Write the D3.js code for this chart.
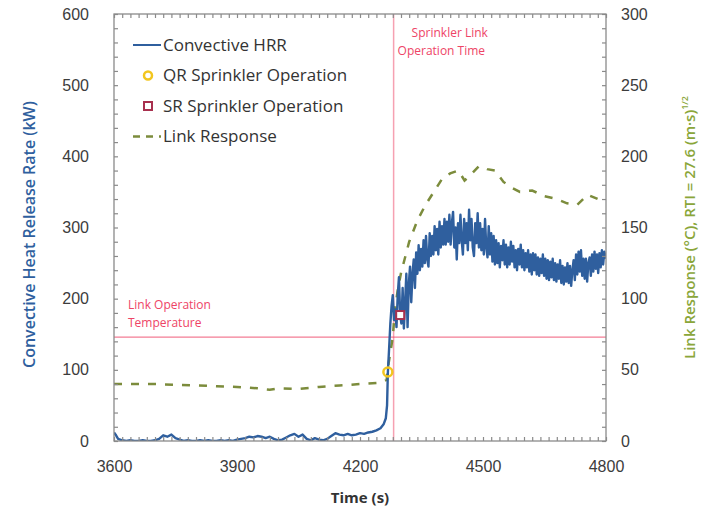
<!DOCTYPE html>
<html lang="en">
<head>
  <meta charset="utf-8">
  <title>Convective HRR and Link Response</title>
  <script src="https://d3js.org/d3.v7.min.js"></script>
  <style>
    body { margin: 0; background: #fff; }
    svg { font-family: "Open Sans", "Noto Sans", sans-serif; }
  </style>
</head>
<body>
  <div id="chart"></div>
  <script>
    // width and height
    var w = 720;
    var h = 508;
    var margin = { top: 14, right: 114, bottom: 67, left: 114 };

    // convective HRR, [time (s), kW]
    const hrrData = [
      [3600, 12], [3605, 8], [3610, 3], [3620, 1], [3630, 0], [3640, 1], [3650, 0], [3660, 0],
      [3670, 1], [3680, 0], [3690, 0], [3700, 1], [3710, 3], [3720, 8], [3730, 6], [3740, 9],
      [3750, 4], [3760, 2], [3770, 0], [3780, 1], [3790, 0], [3800, 0], [3810, 1], [3820, 0],
      [3830, 1], [3840, 0], [3850, 0], [3860, 1], [3870, 0], [3880, 1], [3890, 0], [3900, 2],
      [3910, 3], [3920, 4], [3930, 6], [3940, 5], [3950, 7], [3960, 6], [3970, 4], [3980, 6],
      [3990, 3], [4000, 1], [4010, 2], [4020, 5], [4030, 8], [4040, 10], [4050, 6], [4060, 9],
      [4070, 3], [4080, 1], [4090, 4], [4100, 2], [4110, 1], [4120, 3], [4130, 7], [4140, 11],
      [4150, 9], [4160, 8], [4170, 10], [4180, 8], [4190, 9], [4200, 11], [4210, 10], [4220, 12],
      [4230, 13], [4240, 15], [4250, 18], [4258, 24], [4263, 32], [4266, 50], [4268, 97],
      [4271, 130], [4274, 165], [4277, 190], [4280, 205], [4283, 170], [4286, 185], [4289, 160],
      [4292, 205], [4295, 230], [4298, 177], [4301, 165], [4304, 215], [4307, 158], [4310, 195],
      [4313, 235], [4316, 160], [4319, 220], [4322, 245], [4325, 195], [4328, 235], [4331, 255],
      [4334, 215], [4337, 265], [4340, 235], [4343, 275], [4346, 240], [4349, 270], [4352, 245],
      [4355, 282], [4358, 250], [4361, 288], [4364, 255], [4367, 245], [4370, 292], [4373, 260],
      [4376, 288], [4379, 262], [4382, 302], [4385, 268], [4388, 298], [4391, 262], [4394, 308],
      [4397, 272], [4400, 302], [4403, 276], [4406, 312], [4409, 276], [4412, 308], [4415, 280],
      [4418, 318], [4421, 276], [4424, 306], [4427, 322], [4430, 272], [4433, 300], [4436, 255],
      [4439, 306], [4442, 278], [4445, 318], [4448, 282], [4451, 262], [4454, 312], [4457, 278],
      [4460, 306], [4463, 268], [4466, 325], [4469, 282], [4472, 312], [4475, 272], [4478, 260],
      [4481, 306], [4484, 278], [4487, 320], [4490, 272], [4493, 306], [4496, 268], [4499, 298],
      [4502, 262], [4505, 312], [4508, 272], [4511, 258], [4514, 302], [4517, 262], [4520, 292],
      [4523, 252], [4526, 288], [4529, 248], [4532, 282], [4535, 250], [4538, 278], [4541, 244],
      [4544, 274], [4547, 254], [4550, 282], [4553, 248], [4556, 276], [4559, 244], [4562, 272],
      [4565, 248], [4568, 280], [4571, 252], [4574, 274], [4577, 244], [4580, 268], [4583, 240],
      [4586, 270], [4589, 248], [4592, 276], [4595, 244], [4598, 268], [4601, 240], [4604, 264],
      [4607, 244], [4610, 268], [4613, 238], [4616, 262], [4619, 234], [4622, 264], [4625, 240],
      [4628, 262], [4631, 234], [4634, 258], [4637, 232], [4640, 256], [4643, 236], [4646, 262],
      [4649, 232], [4652, 256], [4655, 228], [4658, 254], [4661, 226], [4664, 252], [4667, 230],
      [4670, 256], [4673, 226], [4676, 250], [4679, 224], [4682, 248], [4685, 228], [4688, 254],
      [4691, 222], [4694, 246], [4697, 220], [4700, 244], [4703, 224], [4706, 250], [4709, 222],
      [4712, 246], [4715, 218], [4718, 240], [4721, 254], [4724, 226], [4727, 262], [4730, 234],
      [4733, 266], [4736, 238], [4739, 268], [4742, 232], [4745, 256], [4748, 228], [4751, 256],
      [4754, 224], [4757, 250], [4760, 258], [4763, 232], [4766, 262], [4769, 238], [4772, 266],
      [4775, 242], [4778, 262], [4781, 236], [4784, 264], [4787, 244], [4790, 268], [4793, 248],
      [4796, 266], [4800, 256]
    ];

    // link response, [time (s), °C]
    const linkData = [
      [3600, 40], [3650, 40], [3700, 40], [3750, 39.5], [3800, 39], [3850, 38.5], [3900, 38],
      [3950, 37], [3980, 36], [4000, 37], [4050, 36.5], [4100, 38], [4150, 39], [4200, 40],
      [4250, 41], [4265, 43], [4270, 55], [4280, 73], [4285, 92], [4292, 106], [4300, 118],
      [4320, 140], [4340, 155], [4360, 166], [4380, 175], [4400, 184], [4420, 188], [4440, 190],
      [4455, 183], [4470, 187], [4490, 193], [4510, 191], [4530, 190], [4550, 182], [4570, 178],
      [4590, 175], [4620, 176], [4650, 172], [4680, 170], [4705, 167], [4730, 166], [4755, 173],
      [4780, 170], [4800, 168]
    ];

    // sprinkler operations, [time (s), kW]
    const qrSprinkler = [[4268, 97]];
    const srSprinkler = [[4298, 177]];

    const linkOperationTemp = 73;
    const linkOperationTime = 4282;

    const xTicks = [3600, 3900, 4200, 4500, 4800];
    const yLeftTicks = [0, 100, 200, 300, 400, 500, 600];
    const yRightTicks = [0, 50, 100, 150, 200, 250, 300];

    const legendItems = [
      { label: "Convective HRR", kind: "line" },
      { label: "QR Sprinkler Operation", kind: "qr" },
      { label: "SR Sprinkler Operation", kind: "sr" },
      { label: "Link Response", kind: "dash" }
    ];

    const blue = "#2f5f9e";
    const green = "#7c8c3c";
    const red = "#ee4466";
    const frame = "#8a8a8a";

    var iw = w - margin.left - margin.right;
    var ih = h - margin.top - margin.bottom;

    var x = d3.scaleLinear().domain([3600, 4800]).range([margin.left, margin.left + iw]);
    var yL = d3.scaleLinear().domain([0, 600]).range([margin.top + ih, margin.top]);
    var yR = d3.scaleLinear().domain([0, 300]).range([margin.top + ih, margin.top]);

    var svg = d3.select("#chart").append("svg")
      .attr("width", w)
      .attr("height", h);

    // clip for plot area
    svg.append("clipPath").attr("id", "plot")
      .append("rect")
      .attr("x", margin.left).attr("y", margin.top)
      .attr("width", iw).attr("height", ih);

    // reference lines
    svg.append("line")
      .attr("x1", x(3600)).attr("x2", x(4800))
      .attr("y1", yR(linkOperationTemp)).attr("y2", yR(linkOperationTemp))
      .attr("stroke", red).attr("stroke-opacity", 0.7).attr("stroke-width", 1.2);

    svg.append("line")
      .attr("x1", x(linkOperationTime)).attr("x2", x(linkOperationTime))
      .attr("y1", yL(600)).attr("y2", yL(0))
      .attr("stroke", red).attr("stroke-opacity", 0.5).attr("stroke-width", 1.5);

    // annotations
    var ann = svg.append("g")
      .attr("fill", red)
      .attr("font-size", 12);
    ann.append("text").attr("x", x(linkOperationTime) + 18).attr("y", 37).text("Sprinkler Link");
    ann.append("text").attr("x", x(linkOperationTime) + 4).attr("y", 55).text("Operation Time");
    ann.append("text").attr("x", x(3600) + 14).attr("y", 309).text("Link Operation");
    ann.append("text").attr("x", x(3600) + 14).attr("y", 327).text("Temperature");

    var g = svg.append("g").attr("clip-path", "url(#plot)");

    // link response (dashed)
    g.append("path")
      .datum(linkData)
      .attr("fill", "none")
      .attr("stroke", green)
      .attr("stroke-width", 2.5)
      .attr("stroke-dasharray", "8,9")
      .attr("d", d3.line().x(d => x(d[0])).y(d => yR(d[1])));

    // convective HRR
    g.append("path")
      .datum(hrrData)
      .attr("fill", "none")
      .attr("stroke", blue)
      .attr("stroke-width", 2.4)
      .attr("stroke-linejoin", "round")
      .attr("d", d3.line().x(d => x(d[0])).y(d => yL(d[1])));

    // markers
    svg.selectAll(".qr").data(qrSprinkler).enter()
      .append("circle")
      .attr("cx", d => x(d[0])).attr("cy", d => yL(d[1]))
      .attr("r", 4.5)
      .attr("fill", "none")
      .attr("stroke", "#f2c61f")
      .attr("stroke-width", 2.5);

    svg.selectAll(".sr").data(srSprinkler).enter()
      .append("rect")
      .attr("x", d => x(d[0]) - 4).attr("y", d => yL(d[1]) - 4)
      .attr("width", 8).attr("height", 8)
      .attr("fill", "#fff")
      .attr("stroke", "#a8304e")
      .attr("stroke-width", 2);

    // frame
    svg.append("rect")
      .attr("x", margin.left).attr("y", margin.top)
      .attr("width", iw).attr("height", ih)
      .attr("fill", "none")
      .attr("stroke", frame)
      .attr("stroke-width", 1.3);

    // inward ticks on all sides
    function ticks(sel) {
      sel.select(".domain").remove();
      sel.selectAll("line").attr("stroke", frame).attr("stroke-width", 1.2);
    }
    var minorX = d3.range(3600, 4801, 20);
    var minorL = d3.range(0, 601, 20);
    var minorR = d3.range(0, 301, 10);

    svg.append("g").attr("transform", `translate(0,${margin.top + ih})`)
      .call(d3.axisTop(x).tickValues(minorX).tickSize(4).tickFormat("")).call(ticks);
    svg.append("g").attr("transform", `translate(0,${margin.top})`)
      .call(d3.axisBottom(x).tickValues(minorX).tickSize(4).tickFormat("")).call(ticks);
    svg.append("g").attr("transform", `translate(${margin.left},0)`)
      .call(d3.axisRight(yL).tickValues(minorL).tickSize(4).tickFormat("")).call(ticks);
    svg.append("g").attr("transform", `translate(${margin.left + iw},0)`)
      .call(d3.axisLeft(yR).tickValues(minorR).tickSize(4).tickFormat("")).call(ticks);

    // tick labels
    function labels(sel) {
      sel.select(".domain").remove();
      sel.selectAll("line").remove();
      sel.selectAll("text").attr("fill", "#3c3c3c").attr("font-size", 16);
    }
    svg.append("g").attr("transform", `translate(0,${margin.top + ih + 17})`)
      .call(d3.axisBottom(x).tickValues(xTicks).tickSize(0).tickFormat(d3.format("d"))).call(labels);
    svg.append("g").attr("transform", `translate(${margin.left - 22},0)`)
      .call(d3.axisLeft(yL).tickValues(yLeftTicks).tickSize(0)).call(labels);
    svg.append("g").attr("transform", `translate(${margin.left + iw + 12},0)`)
      .call(d3.axisRight(yR).tickValues(yRightTicks).tickSize(0)).call(labels);

    // axis titles
    svg.append("text")
      .attr("x", x(4200)).attr("y", 503)
      .attr("text-anchor", "middle")
      .attr("font-size", 15).attr("font-weight", "bold")
      .attr("fill", "#333")
      .text("Time (s)");

    svg.append("text")
      .attr("transform", `translate(35,${yL(290)}) rotate(-90)`)
      .attr("text-anchor", "middle")
      .attr("font-size", 16).attr("font-weight", "600")
      .attr("fill", blue)
      .text("Convective Heat Release Rate (kW)");

    var rt = svg.append("text")
      .attr("transform", `translate(695,${yL(300)}) rotate(-90)`)
      .attr("text-anchor", "middle")
      .attr("font-size", 15).attr("font-weight", "600")
      .attr("fill", "#8aa63a");
    rt.append("tspan").text("Link Response (°C), RTI = 27.6 (m·s)");
    rt.append("tspan").attr("font-size", 9).attr("dy", -7).text("1/2");

    // legend
    var leg = svg.append("g").attr("transform", "translate(133,45)");
    legendItems.forEach(function (item, i) {
      var row = leg.append("g").attr("transform", `translate(0,${i * 30.5})`);
      if (item.kind === "line") {
        row.append("line").attr("x1", 0).attr("x2", 28).attr("stroke", blue).attr("stroke-width", 2);
      } else if (item.kind === "dash") {
        row.append("line").attr("x1", 0).attr("x2", 28).attr("stroke", green)
          .attr("stroke-width", 2.5).attr("stroke-dasharray", "7,6");
      } else if (item.kind === "qr") {
        row.append("circle").attr("cx", 15).attr("r", 4).attr("fill", "none")
          .attr("stroke", "#f2c61f").attr("stroke-width", 2.5);
      } else {
        row.append("rect").attr("x", 11).attr("y", -4).attr("width", 8).attr("height", 8)
          .attr("fill", "#fff").attr("stroke", "#a8304e").attr("stroke-width", 2);
      }
      row.append("text")
        .attr("x", 30).attr("dy", "0.35em")
        .attr("font-size", 17)
        .attr("fill", "#333")
        .text(item.label);
    });
  </script>
</body>
</html>
